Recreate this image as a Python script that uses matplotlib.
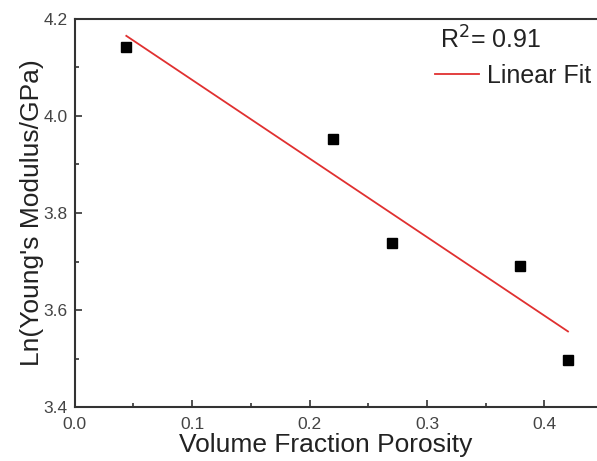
import matplotlib.pyplot as plt
import numpy as np

plt.rcParams['font.family'] = ['Liberation Sans', 'DejaVu Sans']

# data
porosity = [0.044, 0.220, 0.270, 0.379, 0.420]
ln_modulus = [4.143, 3.953, 3.738, 3.691, 3.497]
r2_label = "0.91"   # value printed on the original figure

x_ticks = [0.0, 0.1, 0.2, 0.3, 0.4]
y_ticks = [3.4, 3.6, 3.8, 4.0, 4.2]

# linear fit through the points
x = np.array(porosity)
y = np.array(ln_modulus)
slope, intercept = np.polyfit(x, y, 1)
x_fit = np.array([x.min(), x.max()])
y_fit = slope * x_fit + intercept

fig = plt.figure(figsize=(5.97, 4.61), dpi=100)
ax = fig.add_axes([0.125, 0.117, 0.875, 0.842])

ax.plot(x_fit, y_fit, color='#e03030', lw=1.3, label='Linear Fit')
ax.plot(x, y, 's', color='black', markersize=6.5, linestyle='none')

ax.set_xlim(0, 0.4447)
ax.set_ylim(3.4, 4.2)
ax.set_xticks(x_ticks)
ax.set_yticks(y_ticks)
ax.set_xticks(np.arange(0.05, 0.44, 0.1), minor=True)
ax.set_yticks([3.5, 3.7, 3.9, 4.1], minor=True)
ax.set_xticklabels([f"{v:.1f}" for v in x_ticks])
ax.set_yticklabels([f"{v:.1f}" for v in y_ticks])
ax.tick_params(which='major', direction='in', length=5, width=1.2, labelsize=12.5,
               colors='#333333', labelcolor='#444444')
ax.tick_params(axis='x', which='major', pad=7.5)
ax.tick_params(axis='y', which='major', pad=5)
ax.tick_params(which='minor', direction='in', length=3, width=1.2, colors='#333333')

for side in ['left', 'bottom', 'top']:
    ax.spines[side].set_linewidth(1.5)
    ax.spines[side].set_color('#333333')
ax.spines['right'].set_visible(False)

ax.set_xlabel("Volume Fraction Porosity", fontsize=19, color='#222222')
ax.set_ylabel("Ln(Young's Modulus/GPa)", fontsize=19, color='#222222')
ax.xaxis.set_label_coords(0.48, -0.068, transform=ax.transAxes)
ax.yaxis.set_label_coords(-0.058, 0.5, transform=ax.transAxes)

fig.text(0.737, 0.913, f"R$^2$= {r2_label}", fontsize=18, color='#222222', va='center')
ax.legend(loc='upper left', bbox_to_anchor=(0.647, 0.942), frameon=False, fontsize=18,
          handlelength=1.76, handletextpad=0.32, labelcolor='#222222')

fig.savefig("out.png", dpi=100)
